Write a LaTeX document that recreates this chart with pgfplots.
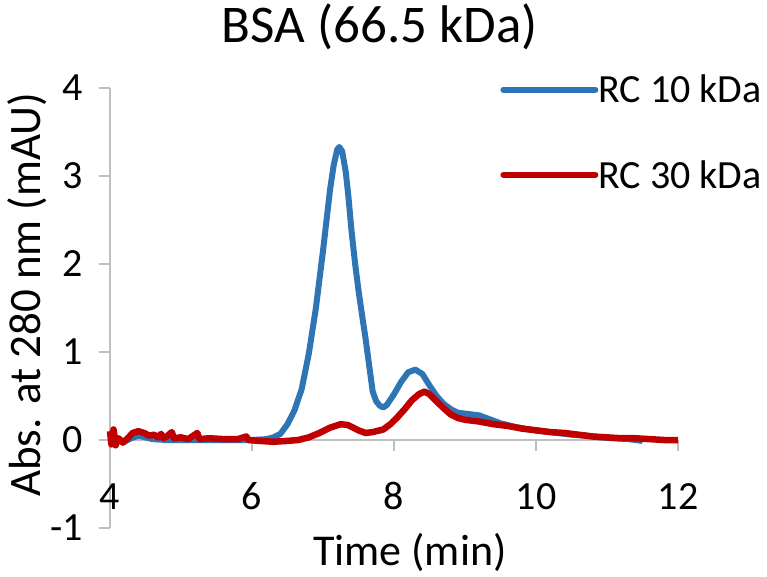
\documentclass[border=0pt]{standalone}
\usepackage{fontspec}
\setmainfont{Carlito}
\usepackage{pgfplots}
\pgfplotsset{compat=1.18}

\definecolor{rcblue}{RGB}{46,117,182}
\definecolor{rcred}{RGB}{192,0,0}
\definecolor{axgray}{RGB}{191,191,191}

\begin{document}
\begin{tikzpicture}
\begin{axis}[
    scale only axis,
    width=568pt, height=440pt,
    xmin=4, xmax=12, ymin=-1, ymax=4,
    axis x line=middle, axis y line=left,
    axis line style={draw=axgray, line width=2.5pt, -},
    xtick={4,6,8,10,12}, xticklabels={4,6,8,10,12},
    ytick={-1,0,1,2,3,4}, yticklabels={-1,0,1,2,3,4},
    tick align=outside,
    major tick length=11pt,
    tick style={draw=axgray, line width=2.5pt},
    hide obscured x ticks=false,
    tick label style={font=\fontsize{40}{48}\selectfont, inner sep=0pt},
    xticklabel style={anchor=base, yshift=-58pt},
    yticklabel style={anchor=east, xshift=-16pt},
    title={BSA (66.5 kDa)},
    title style={font=\fontsize{53}{62}\selectfont, at={(axis description cs:0.475,1)}, anchor=base, yshift=40pt},
    xlabel={Time (min)},
    xlabel style={font=\fontsize{44}{52}\selectfont, at={(axis description cs:0.528,0)}, anchor=base, yshift=-37pt},
    ylabel={Abs. at 280 nm (mAU)},
    ylabel style={font=\fontsize{45}{52}\selectfont, at={(axis description cs:-0.123,0.53)}, anchor=base},
    legend style={draw=none, fill=none, at={(axis description cs:0.687,1.03)}, anchor=north west,
        font=\fontsize{40}{48}\selectfont, inner sep=0pt, row sep=56pt,
        cells={anchor=west}, nodes={inner sep=0pt},
        /tikz/every even column/.style={column sep=14pt}},
    legend image code/.code={\draw[#1, line width=6pt, line cap=round] (0pt,0pt) -- (92pt,0pt);},
    clip=false,
]
\addplot[rcblue, line width=6pt, line join=round] coordinates {
(4.00,0.02) (4.10,0.00) (4.20,-0.02) (4.30,0.02) (4.40,0.05) (4.50,0.03)
(4.60,0.01) (4.80,0.00) (5.00,0.00) (5.50,0.00) (6.00,0.00) (6.20,0.01)
(6.30,0.03) (6.40,0.07) (6.50,0.18) (6.60,0.34) (6.70,0.58) (6.80,0.98)
(6.90,1.50) (7.00,2.15) (7.05,2.50) (7.10,2.85) (7.15,3.12) (7.20,3.30)
(7.23,3.33) (7.27,3.28) (7.32,3.05) (7.36,2.75) (7.40,2.39) (7.45,2.02)
(7.50,1.70) (7.55,1.42) (7.60,1.15) (7.65,0.85) (7.70,0.55) (7.75,0.44)
(7.80,0.39) (7.85,0.37) (7.90,0.40) (8.00,0.52) (8.10,0.66) (8.20,0.77)
(8.30,0.80) (8.40,0.75) (8.50,0.62) (8.60,0.50) (8.70,0.41) (8.80,0.35)
(8.90,0.31) (9.00,0.30) (9.10,0.29) (9.20,0.28) (9.30,0.25) (9.40,0.22)
(9.50,0.19) (9.70,0.15) (9.90,0.12) (10.10,0.10) (10.30,0.08) (10.50,0.06)
(10.70,0.05) (10.90,0.03) (11.10,0.02) (11.30,0.01) (11.50,-0.01)
};
\addlegendentry{RC 10 kDa}
\addplot[rcred, line width=6.5pt, line join=round] coordinates {
(4.00,0.10) (4.02,-0.05) (4.05,0.12) (4.08,-0.06) (4.12,0.02) (4.18,-0.03)
(4.25,0.02) (4.32,0.08) (4.40,0.10) (4.48,0.08) (4.55,0.05) (4.62,0.06)
(4.68,0.03) (4.72,0.07) (4.75,0.02) (4.80,0.04) (4.87,0.09) (4.90,0.02)
(5.00,0.03) (5.10,0.01) (5.23,0.08) (5.26,0.01) (5.40,0.02) (5.60,0.01)
(5.80,0.01) (5.92,0.04) (5.95,0.00) (6.10,-0.01) (6.30,-0.02) (6.50,-0.01)
(6.65,0.00) (6.80,0.03) (6.95,0.08) (7.10,0.14) (7.25,0.18) (7.35,0.17)
(7.50,0.11) (7.60,0.08) (7.70,0.09) (7.85,0.12) (7.95,0.18) (8.05,0.26)
(8.15,0.35) (8.25,0.45) (8.35,0.52) (8.43,0.55) (8.50,0.52) (8.60,0.44)
(8.70,0.36) (8.80,0.29) (8.90,0.25) (9.00,0.23) (9.20,0.21) (9.40,0.18)
(9.60,0.16) (9.80,0.13) (10.00,0.11) (10.20,0.09) (10.40,0.08) (10.60,0.06)
(10.80,0.04) (11.00,0.03) (11.20,0.02) (11.40,0.02) (11.60,0.01) (11.80,0.00)
(12.00,0.00)
};
\addlegendentry{RC 30 kDa}
\end{axis}
\pgfresetboundingbox
\useasboundingbox (-110pt,-48pt) rectangle (657pt,528pt);
\end{tikzpicture}
\end{document}
